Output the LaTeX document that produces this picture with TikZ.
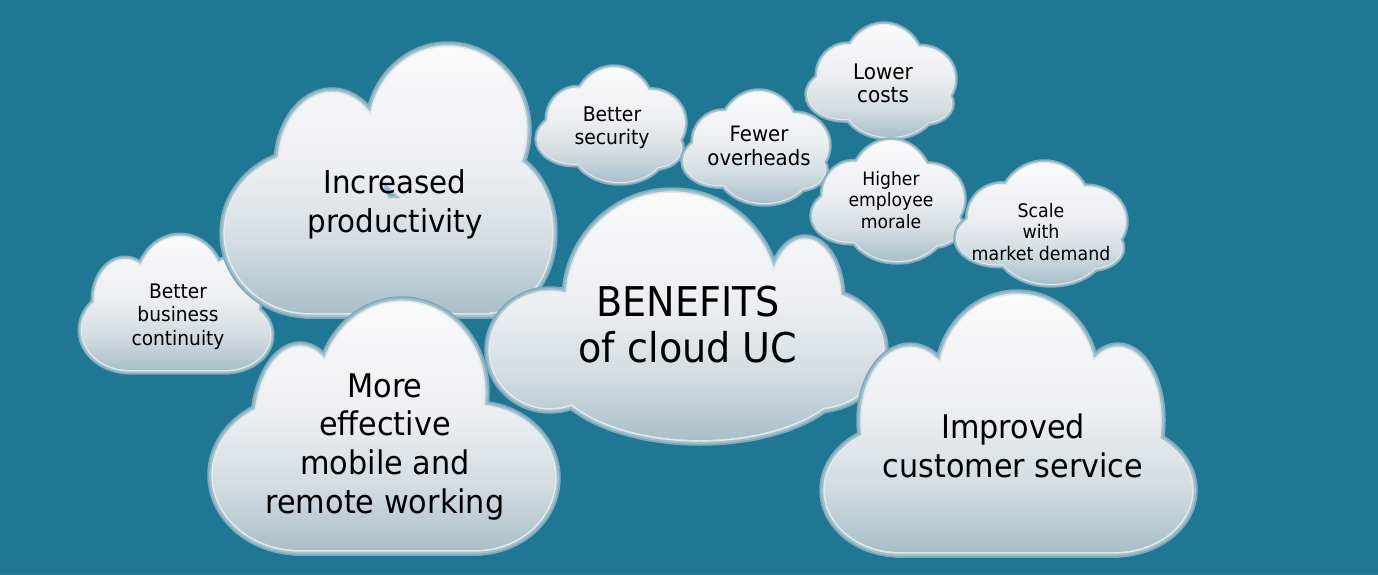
\documentclass[tikz,border=0pt]{standalone}
\usepackage{fontspec}
\setmainfont{DejaVu Sans}[FakeStretch=0.93]
\definecolor{bgc}{HTML}{1F7794}
\definecolor{stripc}{HTML}{2F829C}
\definecolor{cloudA}{HTML}{82AABC}
\definecolor{cloudB}{HTML}{A2C1CE}
\definecolor{cloudC}{HTML}{E2EAEE}
\definecolor{ctop}{HTML}{FAFAFB}
\definecolor{cmidB}{HTML}{EDEEF1}
\definecolor{cmidA}{HTML}{D3DCE1}
\definecolor{cbot}{HTML}{A9BFCA}
\pgfdeclareverticalshading{cloudsh}{100bp}{color(0bp)=(cbot); color(25bp)=(cbot); color(38bp)=(cmidA); color(52bp)=(cmidB); color(75bp)=(ctop); color(100bp)=(ctop)}
% ellipse in pixel coordinates (y down)
\newcommand\cel[4]{(#1,-#2) ellipse [x radius=#3, y radius=#4]}
% counter-clockwise rectangle: x1, y1(top), x2, y2(bottom)
\newcommand\crect[4]{(#1,-#4) -- (#3,-#4) -- (#3,-#2) -- (#1,-#2) -- cycle}
% ellipse relative to a small cloud box
\newcommand\se[4]{({\cX+#1*\cW},{-\cY-#2*\cH}) ellipse [x radius={#3*\cW}, y radius={#4*\cH}]}
\newcommand\smallpath{\se{.52}{.40}{.27}{.40} \se{.27}{.45}{.20}{.27} \se{.25}{.62}{.25}{.22} \se{.77}{.48}{.23}{.28} \se{.56}{.69}{.32}{.31} \se{.80}{.70}{.18}{.17}}
\newcommand\drawcloud[4]{%
  \path[draw=cloudA, line width=#1] #4;
  \path[draw=cloudB, line width=#2] #4;
  \path[draw=cloudC, line width=#3] #4;
  \path[shade, shading=cloudsh] #4;
}
\newcommand\smallcloud[4]{\def\cX{#1}\def\cY{#2}\def\cW{#3}\def\cH{#4}\drawcloud{7.5pt}{5pt}{2.2pt}{\smallpath}}
\newcommand\ml[1]{\begin{tabular}[t]{@{}c@{}}#1\end{tabular}}
\begin{document}
\begin{tikzpicture}[x=1pt,y=1pt, lbl/.style={anchor=base, inner sep=0pt, text=black}]
\useasboundingbox (0,0) rectangle (1378,-575);
\fill[bgc] (0,0) rectangle (1378,-575);
\fill[stripc] (0,-573.5) rectangle (1378,-575);

% Better business continuity
\drawcloud{9pt}{6pt}{2.8pt}{\cel{180}{285}{42}{48} \cel{125}{300}{30}{40} \cel{230}{300}{28}{40} \cel{225}{335}{45}{35} \cel{130}{330}{48}{40} \crect{130}{300}{225}{370}}
% Increased productivity
\drawcloud{11.5pt}{7.6pt}{3.3pt}{\cel{448}{130}{78}{83} \cel{332}{165}{53}{72} \cel{310}{233}{85}{80} \cel{490}{232}{62}{80} \crect{310}{200}{490}{313}}
% More effective
\drawcloud{11.5pt}{7.6pt}{3.3pt}{\cel{402}{392}{82}{90} \cel{300}{430}{45}{83} \cel{300}{475}{87}{75} \cel{475}{478}{80}{72} \crect{300}{440}{475}{550}}
% BENEFITS
\drawcloud{11.5pt}{7.6pt}{3.3pt}{\cel{672}{300}{105}{107} \cel{805}{300}{35}{60} \cel{815}{350}{68}{58} \cel{700}{365}{150}{75} \cel{550}{350}{60}{58} \crect{560}{300}{810}{400}}
% Improved customer service
\drawcloud{11.5pt}{7.6pt}{3.3pt}{\cel{1017}{380}{78}{85} \cel{910}{420}{48}{72} \cel{900}{490}{75}{62} \cel{1118}{420}{42}{72} \cel{1114}{490}{78}{62} \crect{900}{440}{1114}{552}}
% small clouds
\smallcloud{538}{68}{146}{114}
\smallcloud{684}{92}{144}{111}
\smallcloud{808}{25}{146}{112}
\smallcloud{813}{141}{150}{120}
\smallcloud{957}{163}{168}{121}

\node[lbl, font=\fontsize{20}{23.5}\selectfont] (tBBC) at (178,-298) {\ml{Better\\business\\continuity}};
\node[lbl, font=\fontsize{31.5}{39}\selectfont] (tInc) at (395,-193) {\ml{Increased\\productivity}};
\node[lbl, font=\fontsize{32.6}{38.7}\selectfont] (tMob) at (385,-397) {\ml{More\\effective\\mobile and\\remote working}};
\node[lbl, font=\fontsize{41}{46}\selectfont] (tBen) at (688,-316) {\ml{BENEFITS\\of cloud UC}};
\node[lbl, font=\fontsize{32.5}{39}\selectfont] (tImp) at (1013,-438) {\ml{Improved\\customer service}};
\node[lbl, font=\fontsize{20.2}{23}\selectfont] (tSec) at (612,-122) {\ml{Better\\security}};
\node[lbl, font=\fontsize{21.2}{24}\selectfont] (tOvh) at (759,-142) {\ml{Fewer\\overheads}};
\node[lbl, font=\fontsize{21.5}{23}\selectfont] (tCost) at (883,-80) {\ml{Lower\\costs}};
\node[lbl, font=\fontsize{18.5}{21.5}\selectfont] (tMor) at (891,-185) {\ml{Higher\\employee\\morale}};
\node[lbl, font=\fontsize{18.7}{21.5}\selectfont] (tScl) at (1041,-217) {\ml{Scale\\with\\market demand}};
\end{tikzpicture}
\end{document}
